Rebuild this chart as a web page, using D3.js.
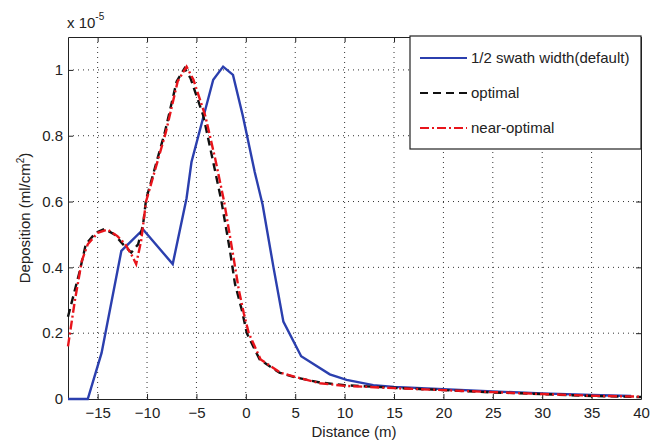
<!DOCTYPE html>
<html>
<head>
<meta charset="utf-8">
<script src="https://cdn.jsdelivr.net/npm/d3@7"></script>
<style>
  body { margin: 0; background: #fff; }
  text { font-family: "Liberation Sans", Arial, sans-serif; fill: #222; }
</style>
</head>
<body>
<div id="chart"></div>
<script>
// values are in units of 1e-5 ml/cm^2
const defaultX = [-18, -16, -14.6, -12.6, -10.4, -7.4, -6.0, -5.5, -4.8, -3.3, -2.3, -1.3, -0.3, 0.9, 1.7, 2.8, 3.8, 5.6, 8.5, 10.2, 12.9, 15, 20, 25, 30, 35, 39];
const defaultY = [0, 0, 0.14, 0.45, 0.515, 0.41, 0.61, 0.72, 0.80, 0.97, 1.01, 0.985, 0.86, 0.69, 0.59, 0.40, 0.235, 0.13, 0.075, 0.058, 0.042, 0.037, 0.03, 0.023, 0.017, 0.012, 0.009];

const optimalX = [-18, -16.8, -16.2, -15.2, -14.3, -13.3, -12.4, -11.6, -10.9, -10.4, -10.1, -8.2, -7.0, -6.2, -5.6, -4.3, -3.3, -2.5, -1.6, -1.1, -0.4, 0.1, 1.4, 3.4, 5, 7.5, 10, 15, 20, 25, 30, 35, 40];
const optimalY = [0.25, 0.39, 0.47, 0.505, 0.517, 0.5, 0.469, 0.445, 0.47, 0.53, 0.606, 0.81, 0.965, 1.005, 0.975, 0.86, 0.72, 0.606, 0.45, 0.35, 0.27, 0.2, 0.12, 0.08, 0.066, 0.05, 0.042, 0.034, 0.027, 0.02, 0.015, 0.009, 0.006];

const nearX = [-18, -17.3, -16.6, -16, -15, -14, -13, -12.2, -11.6, -11.1, -10.6, -10.1, -8.1, -6.9, -6.0, -5.3, -4.1, -3.1, -2.2, -1.3, -0.7, -0.2, 0.3, 1.5, 3.5, 5, 7.5, 10, 15, 20, 25, 30, 35, 40];
const nearY = [0.16, 0.3, 0.42, 0.47, 0.505, 0.515, 0.495, 0.47, 0.44, 0.41, 0.48, 0.6, 0.81, 0.965, 1.01, 0.97, 0.86, 0.73, 0.6, 0.44, 0.33, 0.26, 0.2, 0.12, 0.08, 0.067, 0.048, 0.04, 0.033, 0.027, 0.021, 0.015, 0.01, 0.007];

const xTicks = [-15, -10, -5, 0, 5, 10, 15, 20, 25, 30, 35, 40];
const yTicks = [0, 0.2, 0.4, 0.6, 0.8, 1];
const seriesNames = ["1/2 swath width(default)", "optimal", "near-optimal"];

const W = 655, H = 440;
const margin = {top: 37, right: 14, bottom: 41, left: 68};
const width = W - margin.left - margin.right;
const height = H - margin.top - margin.bottom;
const fs = 15;

const svg = d3.select("#chart").append("svg")
  .attr("width", W)
  .attr("height", H);

const g = svg.append("g")
  .attr("transform", "translate(" + margin.left + "," + margin.top + ")");

const x = d3.scaleLinear().domain([-18, 40]).range([0, width]);
const y = d3.scaleLinear().domain([0, 1.1]).range([height, 0]);

// dotted grid
g.append("g").selectAll("line").data(xTicks.filter(d => d < 40)).enter().append("line")
  .attr("x1", d => x(d)).attr("x2", d => x(d))
  .attr("y1", 0).attr("y2", height)
  .attr("stroke", "#333").attr("stroke-width", 1).attr("stroke-dasharray", "1,4");
g.append("g").selectAll("line").data(yTicks.filter(d => d > 0)).enter().append("line")
  .attr("x1", 0).attr("x2", width)
  .attr("y1", d => y(d)).attr("y2", d => y(d))
  .attr("stroke", "#333").attr("stroke-width", 1).attr("stroke-dasharray", "1,4");

// axes, matlab style: ticks inward on all sides
const tickLen = 5;
function styleAxis(sel) {
  sel.select(".domain").attr("stroke", "#222");
  sel.selectAll(".tick line").attr("stroke", "#222");
  sel.selectAll("text").attr("font-size", fs).attr("fill", "#222")
    .attr("font-family", "Liberation Sans, Arial, sans-serif");
}
g.append("g").attr("transform", "translate(0," + height + ")")
  .call(d3.axisBottom(x).tickValues(xTicks).tickSizeInner(-tickLen).tickSizeOuter(0).tickPadding(8))
  .call(styleAxis);
g.append("g")
  .call(d3.axisTop(x).tickValues(xTicks).tickSizeInner(-tickLen).tickSizeOuter(0).tickFormat(""))
  .call(styleAxis);
g.append("g")
  .call(d3.axisLeft(y).tickValues(yTicks).tickSizeInner(-tickLen).tickSizeOuter(0).tickPadding(5).tickFormat(d3.format("~g")))
  .call(styleAxis);
g.append("g").attr("transform", "translate(" + width + ",0)")
  .call(d3.axisRight(y).tickValues(yTicks).tickSizeInner(-tickLen).tickSizeOuter(0).tickFormat(""))
  .call(styleAxis);

// curves
const line = d3.line().x(d => x(d[0])).y(d => y(d[1]));
const series = [
  {xs: defaultX, ys: defaultY, color: "#2b3fae", dash: null},
  {xs: optimalX, ys: optimalY, color: "#111", dash: "8,5"},
  {xs: nearX, ys: nearY, color: "#e8141b", dash: "9,3,2,3"}
];
series.forEach(s => {
  g.append("path")
    .datum(d3.zip(s.xs, s.ys))
    .attr("fill", "none")
    .attr("stroke", s.color)
    .attr("stroke-width", 2.4)
    .attr("stroke-dasharray", s.dash)
    .attr("d", line);
});

// legend
const lg = svg.append("g").attr("transform", "translate(410,36)");
lg.append("rect").attr("width", 231).attr("height", 113)
  .attr("fill", "#fff").attr("stroke", "#222").attr("stroke-width", 1.2);
series.forEach((s, i) => {
  const ly = 22 + i * 35;
  lg.append("line").attr("x1", 10).attr("x2", 57).attr("y1", ly).attr("y2", ly)
    .attr("stroke", s.color).attr("stroke-width", 2)
    .attr("stroke-dasharray", s.dash);
  lg.append("text").attr("x", 61).attr("y", ly + 5).attr("font-size", fs)
    .text(seriesNames[i]);
});

// labels
svg.append("text").attr("x", 354).attr("y", 437).attr("text-anchor", "middle")
  .attr("font-size", fs).text("Distance (m)");

const yl = svg.append("text").attr("transform", "translate(30," + (margin.top + height / 2) + ") rotate(-90)")
  .attr("text-anchor", "middle").attr("font-size", fs);
yl.append("tspan").text("Deposition (ml/cm");
yl.append("tspan").attr("font-size", 10).attr("dy", -6).text("2");
yl.append("tspan").attr("dy", 6).text(")");

const ex = svg.append("text").attr("x", 67).attr("y", 28).attr("font-size", fs);
ex.append("tspan").text("x 10");
ex.append("tspan").attr("font-size", 10).attr("dy", -8).text("-5");
</script>
</body>
</html>
